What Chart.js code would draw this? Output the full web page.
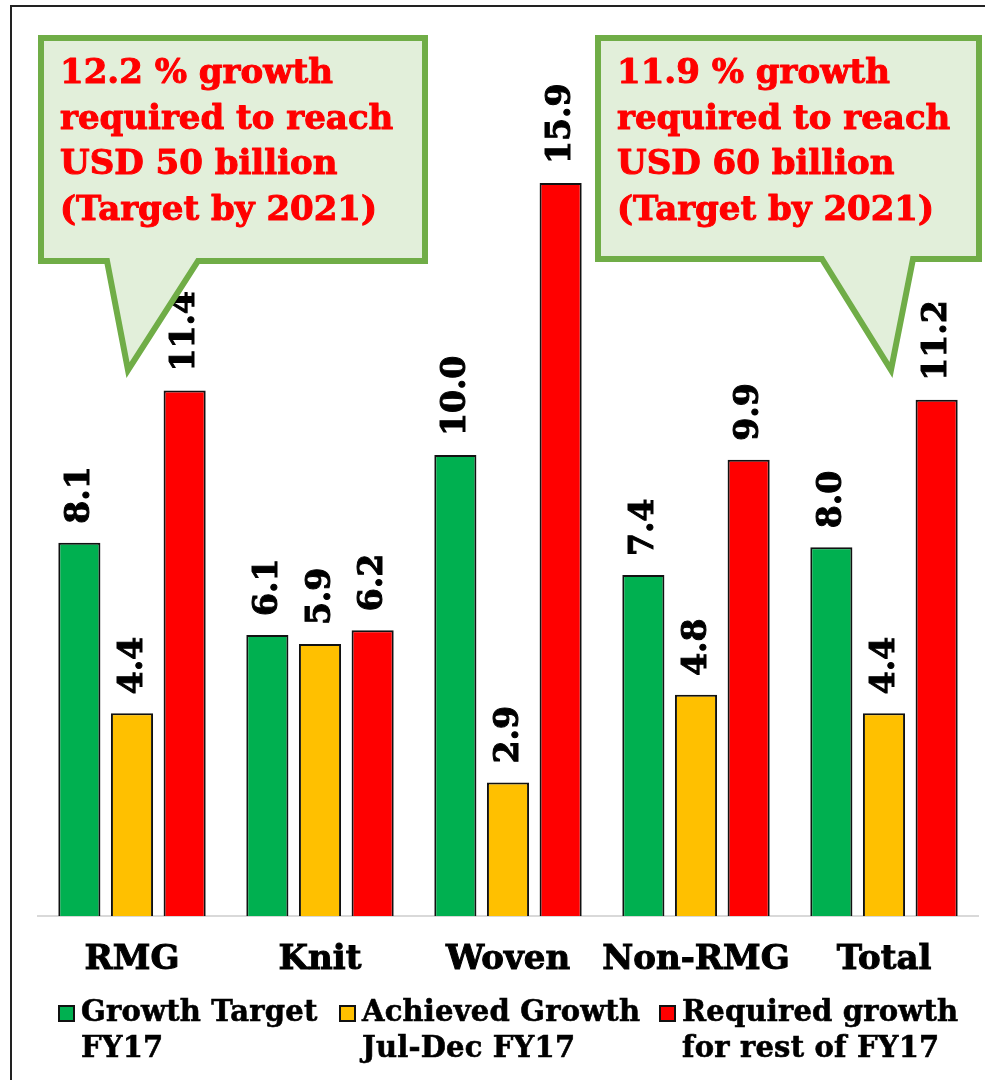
<!DOCTYPE html>
<html>
<head>
<meta charset="utf-8">
<script src="https://cdn.jsdelivr.net/npm/chart.js@4/dist/chart.umd.min.js"></script>
<style>
  html, body { margin: 0; padding: 0; background: #fff; }
  #wrap { position: relative; width: 985px; height: 1080px; overflow: hidden; }
  #frame {
    position: absolute; left: 10px; top: 5px; width: 1100px; height: 1200px;
    border-left: 2px solid #222; border-top: 2px solid #222; box-sizing: border-box;
  }
  #chart { position: absolute; left: 0; top: 0; }
  #legend {
    position: absolute; left: 0; top: 993px; width: 985px; height: 80px;
    font: bold 29px "DejaVu Serif", serif; line-height: 36px; color: #000;
    letter-spacing: 0.2px; -webkit-text-stroke: 0.6px #000;
  }
  .item { position: absolute; top: 0; display: flex; align-items: flex-start; }
  .swatch {
    width: 17px; height: 17px; box-sizing: border-box; border: 2px solid #111;
    margin-top: 12px; margin-right: 6px; flex: none;
  }
</style>
</head>
<body>
<div id="wrap">
  <div id="frame"></div>
  <canvas id="chart" width="985" height="1019"></canvas>
  <div id="legend"></div>
</div>
<script>
// categories and growth figures (%)
const categories = ['RMG', 'Knit', 'Woven', 'Non-RMG', 'Total'];
const growthTarget = [8.1, 6.1, 10.0, 7.4, 8.0];
const achievedGrowth = [4.4, 5.9, 2.9, 4.8, 4.4];
const requiredGrowth = [11.4, 6.2, 15.9, 9.9, 11.2];

const seriesLines = [
  ['Growth Target', 'FY17'],
  ['Achieved Growth', 'Jul-Dec FY17'],
  ['Required growth', 'for rest of FY17']
];
const seriesColors = ['#00B050', '#FFC000', '#FF0000'];

const calloutLines = [
  ['12.2 % growth', 'required to reach', 'USD 50 billion', '(Target by 2021)'],
  ['11.9 % growth', 'required to reach', 'USD 60 billion', '(Target by 2021)']
];

const SERIF = '"DejaVu Serif", serif';

// heavier bold: fill plus a thin outline in the same colour
function boldText(ctx, s, x, y, w) {
  ctx.fillText(s, x, y);
  ctx.lineWidth = w;
  ctx.strokeStyle = ctx.fillStyle;
  ctx.strokeText(s, x, y);
}

// value labels standing vertically above each bar
const barLabels = {
  id: 'barLabels',
  afterDatasetsDraw(chart) {
    const ctx = chart.ctx;
    ctx.save();
    ctx.font = 'bold 33px ' + SERIF;
    ctx.fillStyle = '#000';
    ctx.textAlign = 'left';
    ctx.textBaseline = 'middle';
    chart.data.datasets.forEach((ds, i) => {
      chart.getDatasetMeta(i).data.forEach((bar, j) => {
        ctx.save();
        ctx.translate(bar.x + 1, bar.y - 19);
        ctx.rotate(-Math.PI / 2);
        boldText(ctx, ds.data[j].toFixed(1), 0, 0, 1);
        ctx.restore();
      });
    });
    ctx.restore();
  }
};

// speech-bubble notes in the top corners
function bubble(ctx, box, tail, lines) {
  ctx.save();
  ctx.beginPath();
  ctx.moveTo(box.l, box.t);
  ctx.lineTo(box.r, box.t);
  ctx.lineTo(box.r, box.b);
  ctx.lineTo(tail.x2, box.b);
  ctx.lineTo(tail.tx, tail.ty);
  ctx.lineTo(tail.x1, box.b);
  ctx.lineTo(box.l, box.b);
  ctx.closePath();
  ctx.fillStyle = '#E2EFDA';
  ctx.fill();
  ctx.lineWidth = 6;
  ctx.lineJoin = 'miter';
  ctx.strokeStyle = '#70AD47';
  ctx.stroke();

  ctx.font = 'bold 34px ' + SERIF;
  ctx.fillStyle = '#FF0000';
  ctx.textAlign = 'left';
  ctx.textBaseline = 'alphabetic';
  ctx.lineJoin = 'round';
  lines.forEach((s, k) => boldText(ctx, s, box.l + 19, 83 + k * 45.5, 1));
  ctx.restore();
}

const callouts = {
  id: 'callouts',
  afterDraw(chart) {
    const ctx = chart.ctx;
    bubble(ctx, { l: 41, t: 38, r: 425, b: 261 }, { x1: 107, x2: 198, tx: 128, ty: 370 }, calloutLines[0]);
    bubble(ctx, { l: 598, t: 38, r: 979, b: 259 }, { x1: 822, x2: 913, tx: 891, ty: 370 }, calloutLines[1]);
  }
};

const chart = new Chart(document.getElementById('chart'), {
  type: 'bar',
  data: {
    labels: categories,
    datasets: [growthTarget, achievedGrowth, requiredGrowth].map((d, i) => ({
      label: seriesLines[i].join(' '),
      data: d,
      backgroundColor: seriesColors[i],
      borderColor: '#111',
      borderWidth: 2,
      borderSkipped: 'bottom',
      categoryPercentage: 0.84,
      barPercentage: 0.8
    }))
  },
  options: {
    responsive: false,
    animation: false,
    layout: { padding: { top: 40, left: 38, right: 7, bottom: 14 } },
    plugins: {
      legend: { display: false },
      tooltip: { enabled: false }
    },
    scales: {
      x: {
        grid: { display: false, drawTicks: false },
        border: { color: '#d9d9d9', width: 2 },
        ticks: {
          color: '#000',
          padding: 24,
          maxRotation: 0,
          minRotation: 0,
          autoSkip: false,
          textStrokeColor: '#000',
          textStrokeWidth: 1,
          font: { family: SERIF, size: 34, weight: 'bold' }
        }
      },
      y: { display: false, min: 0, max: 19 }
    }
  },
  plugins: [barLabels, callouts]
});

// two-line legend built from the datasets
const legend = document.getElementById('legend');
const legendX = [58, 339, 659];
chart.data.datasets.forEach((ds, i) => {
  const item = document.createElement('div');
  item.className = 'item';
  item.style.left = legendX[i] + 'px';
  const sw = document.createElement('div');
  sw.className = 'swatch';
  sw.style.background = ds.backgroundColor;
  const txt = document.createElement('div');
  txt.innerHTML = seriesLines[i].join('<br>');
  item.appendChild(sw);
  item.appendChild(txt);
  legend.appendChild(item);
});
</script>
</body>
</html>
